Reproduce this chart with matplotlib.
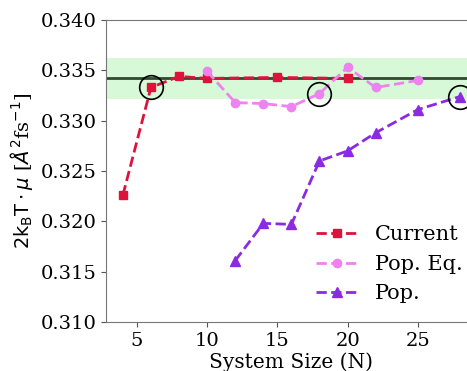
import matplotlib.pyplot as plt

plt.rcParams['font.family'] = 'DejaVu Serif'

current_n = [4, 6, 8, 10, 15, 20]
current_val = [0.3226, 0.3333, 0.3344, 0.3342, 0.3343, 0.3342]

popeq_n = [10, 12, 14, 16, 18, 20, 22, 25]
popeq_val = [0.3349, 0.3318, 0.3317, 0.3314, 0.3327, 0.3353, 0.3333, 0.3340]

pop_n = [12, 14, 16, 18, 20, 22, 25, 28]
pop_val = [0.3161, 0.3198, 0.3197, 0.3260, 0.3270, 0.3288, 0.3311, 0.3324]

ref_val = 0.3342
ref_err = 0.0020

circle_n = [6, 18, 28]
circle_val = [0.3333, 0.3327, 0.3324]

fig = plt.figure(figsize=(4.67, 3.71), dpi=100)
ax = fig.add_axes([0.227, 0.132, 0.794, 0.814])

ax.axhspan(ref_val - ref_err, ref_val + ref_err, color='lightgreen', alpha=0.35, lw=0)
ax.axhline(ref_val, color='#2f4a2f', lw=2)

ax.plot(current_n, current_val, '--s', color='crimson', lw=2, ms=6, label='Current')
ax.plot(popeq_n, popeq_val, '--o', color='violet', lw=2, ms=6, label='Pop. Eq.')
ax.plot(pop_n, pop_val, '--^', color='blueviolet', lw=2, ms=7, label='Pop.')
ax.plot(circle_n, circle_val, 'o', mfc='none', mec='black', ms=17, mew=1.2)

ax.set_xlim(2.8, 29.2)
ax.set_ylim(0.310, 0.340)
ax.set_xticks([5, 10, 15, 20, 25])
ax.set_yticks([0.310, 0.315, 0.320, 0.325, 0.330, 0.335, 0.340])
ax.tick_params(labelsize=14, color='#555555')
for s in ax.spines.values():
    s.set_color('#777777')

ax.set_xlabel('System Size (N)', fontsize=14.5, labelpad=2)
ax.set_ylabel(r'$2\mathrm{k_BT} \cdot \mu$ [$\AA^2$fs$^{-1}$]', fontsize=14)

ax.legend(loc='lower right', bbox_to_anchor=(1.012, 0.0), frameon=False, fontsize=15)

fig.savefig('out.png', dpi=100)
